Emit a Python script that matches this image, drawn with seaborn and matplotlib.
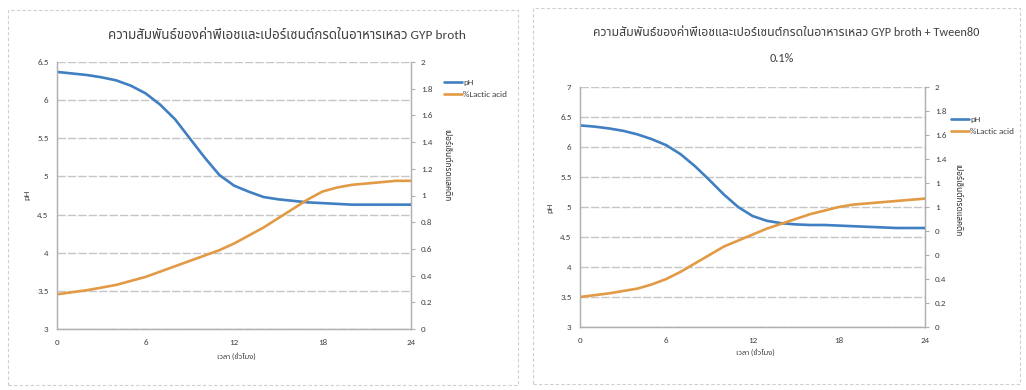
import matplotlib
matplotlib.use("Agg")
import matplotlib.pyplot as plt
from matplotlib import font_manager
from matplotlib.patches import Rectangle
from matplotlib.lines import Line2D
import seaborn as sns
import pandas as pd

# ---- data (hourly readings, 0-24 h) -----------------------------------
hours = list(range(25))

ph_gyp = [6.37, 6.35, 6.33, 6.30, 6.26, 6.19, 6.09, 5.94, 5.75, 5.50, 5.25, 5.02,
          4.88, 4.80, 4.73, 4.70, 4.68, 4.66, 4.65, 4.64, 4.63, 4.63, 4.63, 4.63, 4.63]
lactic_gyp = [0.26, 0.275, 0.29, 0.31, 0.33, 0.36, 0.39, 0.43, 0.47, 0.51, 0.55, 0.59,
              0.64, 0.70, 0.76, 0.83, 0.90, 0.97, 1.03, 1.06, 1.08, 1.09, 1.10, 1.11, 1.11]

ph_tween = [6.36, 6.34, 6.31, 6.27, 6.21, 6.13, 6.03, 5.88, 5.68, 5.45, 5.21, 5.00,
            4.85, 4.77, 4.73, 4.71, 4.70, 4.70, 4.69, 4.68, 4.67, 4.66, 4.65, 4.65, 4.65]
lactic_tween = [0.25, 0.265, 0.28, 0.30, 0.32, 0.355, 0.40, 0.46, 0.53, 0.60, 0.67, 0.72,
                0.77, 0.82, 0.86, 0.90, 0.94, 0.97, 1.00, 1.02, 1.03, 1.04, 1.05, 1.06, 1.07]

x_ticks = [0, 6, 12, 18, 24]
title_gyp = "ความสัมพันธ์ของค่าพีเอชและเปอร์เซนต์กรดในอาหารเหลว GYP broth"
title_tween = "ความสัมพันธ์ของค่าพีเอชและเปอร์เซนต์กรดในอาหารเหลว GYP broth + Tween80"
title_tween_2 = "0.1%"
x_label = "เวลา (ชั่วโมง)"
y_label = "pH"
y2_label = "เปอร์เซ็นต์กรดแลคติก"
legend_labels = ["pH", "%Lactic acid"]

ph_ticks_gyp = [3, 3.5, 4, 4.5, 5, 5.5, 6, 6.5]
ph_ticks_tween = [3, 3.5, 4, 4.5, 5, 5.5, 6, 6.5, 7]
acid_ticks = [0, 0.2, 0.4, 0.6, 0.8, 1.0, 1.2, 1.4, 1.6, 1.8, 2.0]
acid_labels_gyp = ["0", "0.2", "0.4", "0.6", "0.8", "1", "1.2", "1.4", "1.6", "1.8", "2"]
acid_labels_tween = ["0", "0.2", "0.4", "0", "0", "1", "1", "1.4", "1.6", "1.8", "2"]

# ---- style ------------------------------------------------------------
sns.set_style("white")
installed = {f.name for f in font_manager.fontManager.ttflist}
latin = [n for n in ["Carlito", "Open Sans", "Noto Sans"] if n in installed][:1]
thai = [n for n in ["Noto Sans Thai", "IBM Plex Sans Thai", "Sarabun", "Prompt"] if n in installed][:1]
plt.rcParams["font.family"] = latin + thai + ["DejaVu Sans"]

BLUE = "#3f7fc2"
ORANGE = "#e29a45"
GRID = "#c6c6c6"
SPINE = "#b0b0b0"
TXT = "#404040"

W, H = 1026, 390
fig = plt.figure(figsize=(W / 100, H / 100), dpi=100)


def fx(px):
    return px / W


def fy(py):
    return 1 - py / H


# panel frames
for (x0, y0, x1, y1) in [(8, 10, 518, 385), (533, 8, 1020, 384)]:
    fig.patches.append(Rectangle((fx(x0), fy(y1)), fx(x1 - x0), (y1 - y0) / H,
                                 transform=fig.transFigure, fill=False,
                                 edgecolor="#cfcfcf", lw=0.8, ls=(0, (3, 2))))


def panel(rect, ph, acid, ph_ticks, acid_labels, leg_xy):
    ax = fig.add_axes(rect)
    df = pd.DataFrame({"h": hours, "ph": ph, "acid": acid})
    sns.lineplot(data=df, x="h", y="ph", ax=ax, color=BLUE, lw=1.9, zorder=5)
    ax2 = ax.twinx()
    sns.lineplot(data=df, x="h", y="acid", ax=ax2, color=ORANGE, lw=1.9)

    ax.set_xlim(0, 24)
    ax.set_ylim(ph_ticks[0], ph_ticks[-1])
    ax2.set_ylim(0, 2)
    ax.set_xticks(x_ticks)
    ax.set_yticks(ph_ticks)
    ax.set_yticklabels([f"{t:g}" for t in ph_ticks])
    ax2.set_yticks(acid_ticks)
    ax2.set_yticklabels(acid_labels)
    ax.set_xlabel("")
    ax.set_ylabel("")
    ax2.set_ylabel("")

    # horizontal gridlines at the pH ticks
    ax.yaxis.grid(True, color=GRID, lw=1.0, ls=(0, (6, 1.5)))
    ax.xaxis.grid(False)
    ax.set_axisbelow(True)

    for a in (ax, ax2):
        for s in a.spines.values():
            s.set_color(SPINE)
            s.set_linewidth(0.9)
        a.spines["top"].set_visible(False)

    ax.tick_params(axis="both", length=0, labelsize=6.5, colors=TXT, pad=6)
    ax.tick_params(axis="x", pad=7)
    ax2.tick_params(axis="y", length=3, color=SPINE, labelsize=6.5, colors=TXT, pad=4)

    handles = [Line2D([], [], color=BLUE, lw=1.9), Line2D([], [], color=ORANGE, lw=1.9)]
    fig.legend(handles, legend_labels, loc="upper left",
               bbox_to_anchor=(fx(leg_xy[0]), fy(leg_xy[1])), frameon=False,
               fontsize=6.5, handlelength=2.0, handletextpad=0.2,
               labelspacing=0.55, borderpad=0, labelcolor=TXT)
    return ax, ax2


# left panel: GYP broth
panel([fx(57), fy(329), fx(354), 267 / H], ph_gyp, lactic_gyp,
      ph_ticks_gyp, acid_labels_gyp, (439, 74))
fig.text(fx(287), fy(35), title_gyp, ha="center", va="center", fontsize=9.6, color=TXT)
fig.text(fx(236), fy(356), x_label, ha="center", va="center", fontsize=5.5, color=TXT)
fig.text(fx(27), fy(195), y_label, ha="center", va="center", rotation=90, fontsize=6.5, color=TXT)
fig.text(fx(447), fy(165), y2_label, ha="center", va="center", rotation=-90,
         fontsize=6, fontweight="bold", color="#303030")

# right panel: GYP broth + Tween80 0.1%
panel([fx(580), fy(327), fx(345), 240 / H], ph_tween, lactic_tween,
      ph_ticks_tween, acid_labels_tween, (946, 111))
fig.text(fx(786), fy(32), title_tween, ha="center", va="center", fontsize=8.8, color=TXT)
fig.text(fx(782), fy(58), title_tween_2, ha="center", va="center", fontsize=8.8, color=TXT)
fig.text(fx(755), fy(352), x_label, ha="center", va="center", fontsize=5.5, color=TXT)
fig.text(fx(550), fy(208), y_label, ha="center", va="center", rotation=90, fontsize=6.5, color=TXT)
fig.text(fx(958), fy(200), y2_label, ha="center", va="center", rotation=-90,
         fontsize=6, fontweight="bold", color="#303030")

fig.savefig("out.png", dpi=100, facecolor="white")
